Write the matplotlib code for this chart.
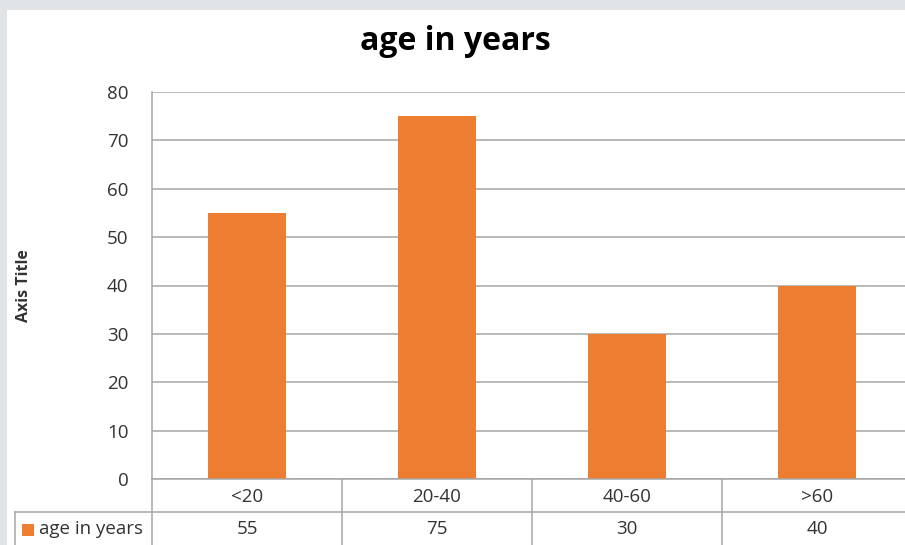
import matplotlib
matplotlib.use("Agg")
import matplotlib.pyplot as plt
from matplotlib.patches import Rectangle
from matplotlib.lines import Line2D
import matplotlib.transforms as mtransforms

categories = ["<20", "20-40", "40-60", ">60"]
values = [55, 75, 30, 40]
series_name = "age in years"
title = "age in years"
y_ticks = [0, 10, 20, 30, 40, 50, 60, 70, 80]

W, H = 905, 545
fig = plt.figure(figsize=(W / 100, H / 100), dpi=100, facecolor="#e1e4e6")
plt.rcParams["font.family"] = ["Open Sans", "DejaVu Sans"]

def px(x, y):
    return x / W, 1 - y / H

# white chart area
fig.patches.append(Rectangle(px(7, H), (W - 7) / W, (H - 10) / H,
                             transform=fig.transFigure, facecolor="white",
                             edgecolor="none", zorder=-5))

left, top, right, bottom = 152, 92, 912, 479
ax = fig.add_axes([left / W, 1 - bottom / H, (right - left) / W, (bottom - top) / H])
ax.set_facecolor("none")

orange = "#ED7D31"
grid_c = "#a6a6a6"
text_c = "#333333"
fs = 13.5

x = list(range(len(categories)))
ax.bar(x, values, width=0.41, color=orange, zorder=3)
ax.set_xlim(-0.5, len(categories) - 0.5)
ax.set_ylim(0, 80)
ax.set_yticks(y_ticks)
ax.set_yticklabels([str(t) for t in y_ticks], fontsize=fs, color=text_c)
ax.tick_params(axis="y", length=0, pad=17)
ax.set_xticks([])
ax.yaxis.grid(True, color=grid_c, linewidth=1.1, zorder=0)
for s in ["top", "right", "bottom"]:
    ax.spines[s].set_visible(False)
ax.spines["left"].set_color(grid_c)
ax.spines["left"].set_linewidth(1.1)

ax.set_ylabel("Axis Title", fontsize=11.5, fontweight="bold", color=text_c, labelpad=54)

fig.text(455 / W, 1 - 42 / H, title, ha="center", va="center",
         fontsize=23, fontweight="bold", color="#000000")

# data table below the plot
trans = mtransforms.blended_transform_factory(ax.transData, fig.transFigure)
row1_mid = 1 - 497 / H
row2_mid = 1 - 529 / H
y_top = 1 - bottom / H
y_mid = 1 - 512 / H
y_bot = 0.0

for i in range(len(categories) + 1):
    xb = i - 0.5
    fig.add_artist(Line2D([xb, xb], [y_bot, y_top], transform=trans,
                          color=grid_c, linewidth=1.1))
fig.add_artist(Line2D([15 / W, 1], [y_mid, y_mid], transform=fig.transFigure,
                      color=grid_c, linewidth=1.1))
fig.add_artist(Line2D([15 / W, 15 / W], [y_bot, y_mid], transform=fig.transFigure,
                      color=grid_c, linewidth=1.1))
fig.add_artist(Line2D([left / W, 1], [y_top, y_top], transform=fig.transFigure,
                      color=grid_c, linewidth=1.1))

for i, (c, v) in enumerate(zip(categories, values)):
    fig.text(i, row1_mid, c, transform=trans, ha="center", va="center",
             fontsize=fs, color=text_c)
    fig.text(i, row2_mid, str(v), transform=trans, ha="center", va="center",
             fontsize=fs, color=text_c)

# legend key in the table
fig.patches.append(Rectangle(px(22, 536), 12 / W, 12 / H, transform=fig.transFigure,
                             facecolor=orange, edgecolor="none"))
fig.text(39 / W, row2_mid, series_name, ha="left", va="center",
         fontsize=fs, color=text_c)

fig.savefig("out.png", dpi=100, facecolor=fig.get_facecolor())
